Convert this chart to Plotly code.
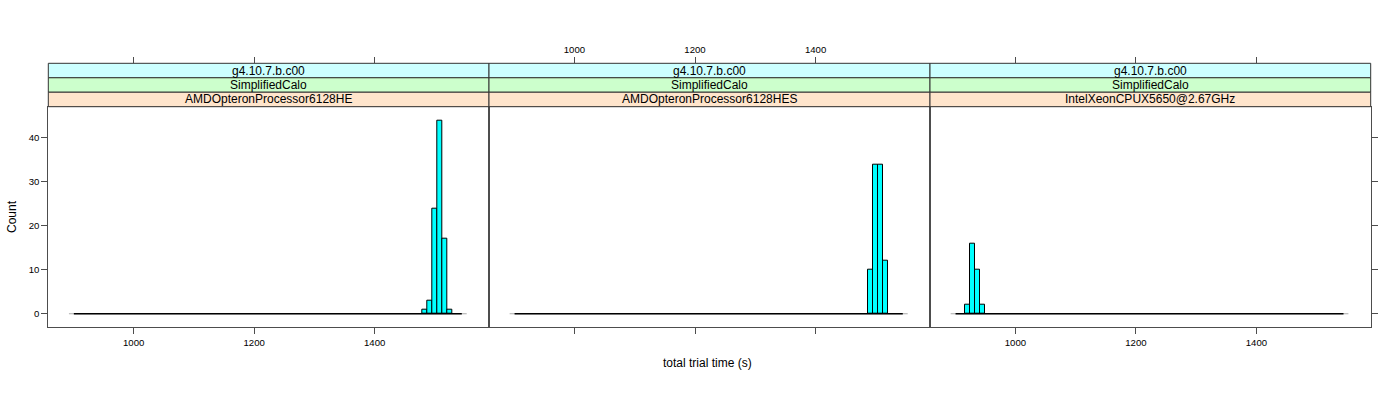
import plotly.graph_objects as go

# ---------------- data ----------------
panel_names = ["AMDOpteronProcessor6128HE", "AMDOpteronProcessor6128HES", "IntelXeonCPUX5650@2.67GHz"]
strip_top = "g4.10.7.b.c00"
strip_mid = "SimplifiedCalo"

bin_width = 8.15
hist_range = [900.7, 1544.55]

p1_bin_left = [1479.35, 1487.5, 1495.65, 1503.8, 1511.95, 1520.1]
p1_counts = [1, 3, 24, 44, 17, 1]
p2_bin_left = [1487.5, 1495.65, 1503.8, 1511.95]
p2_counts = [10, 34, 34, 12]
p3_bin_left = [917.0, 925.15, 933.3, 941.45]
p3_counts = [2, 16, 10, 2]

x_ticks = [1000, 1200, 1400]
y_ticks = [0, 10, 20, 30, 40]
x_title = "total trial time (s)"
y_title = "Count"

# ---------------- layout geometry ----------------
W, H = 1400, 400
xr = [858.3, 1589.7]
yr = [-3.08, 47.08]
px_edges = [48.3, 489.0, 930.0, 1370.7]
plot_top, plot_bot, strip_top_px = 106.7, 327.3, 63.3
ydom = [1 - plot_bot / H, 1 - plot_top / H]
strip_y = [1 - plot_top / H, 1 - strip_top_px / H]

FONT = "Liberation Sans, Arial, Helvetica, sans-serif"
AXCOL = "#4d4d4d"

fig = go.Figure()
panels = [(p1_bin_left, p1_counts), (p2_bin_left, p2_counts), (p3_bin_left, p3_counts)]
for i, (lefts, counts) in enumerate(panels):
    xa = "x" if i == 0 else f"x{i+1}"
    ya = "y" if i == 0 else f"y{i+1}"
    # baseline (zero-count bins)
    fig.add_trace(go.Scatter(x=[hist_range[0] - bin_width, hist_range[1] + bin_width], y=[0, 0],
                             mode="lines", line=dict(color="#aaaaaa", width=1.2),
                             xaxis=xa, yaxis=ya, hoverinfo="skip", showlegend=False))
    fig.add_trace(go.Scatter(x=hist_range, y=[0, 0], mode="lines",
                             line=dict(color="black", width=1.4),
                             xaxis=xa, yaxis=ya, hoverinfo="skip", showlegend=False))
    fig.add_trace(go.Bar(x=[l + bin_width / 2 for l in lefts], y=counts, width=bin_width,
                         marker=dict(color="#00FFFF", line=dict(color="black", width=1)),
                         xaxis=xa, yaxis=ya, showlegend=False))

# invisible traces for top tick axes
for k in range(3):
    fig.add_trace(go.Scatter(x=[xr[0]], y=[0], mode="markers", marker=dict(opacity=0),
                             xaxis=f"x{k+4}", yaxis="y" if k == 0 else f"y{k+1}",
                             hoverinfo="skip", showlegend=False))

common_x = dict(range=xr, showgrid=False, zeroline=False, showline=True, mirror=True,
                linecolor=AXCOL, linewidth=1, ticks="outside", ticklen=6, tickcolor=AXCOL,
                tickvals=x_ticks, tickfont=dict(family=FONT, size=9.6, color="black"))
common_y = dict(range=yr, domain=ydom, showgrid=False, zeroline=False, showline=True, mirror=True,
                linecolor=AXCOL, linewidth=1, tickvals=y_ticks, ticklen=6, tickcolor=AXCOL,
                tickfont=dict(family=FONT, size=9.6, color="black"))

layout = dict(width=W, height=H, margin=dict(l=0, r=0, t=0, b=0),
              paper_bgcolor="white", plot_bgcolor="white", bargap=0,
              font=dict(family=FONT, color="black"))
for i in range(3):
    d = [px_edges[i] / W, px_edges[i + 1] / W]
    xkey = "xaxis" if i == 0 else f"xaxis{i+1}"
    ykey = "yaxis" if i == 0 else f"yaxis{i+1}"
    layout[xkey] = dict(common_x, domain=d, anchor="y" if i == 0 else f"y{i+1}",
                        showticklabels=(i != 1))
    yconf = dict(common_y, anchor="x" if i == 0 else f"x{i+1}")
    if i == 0:
        yconf.update(ticks="outside", showticklabels=True, side="left")
    elif i == 1:
        yconf.update(ticks="", showticklabels=False)
    else:
        yconf.update(ticks="outside", showticklabels=False, side="right")
    layout[ykey] = yconf
    # top tick axes
    layout[f"xaxis{i+4}"] = dict(range=xr, overlaying="x" if i == 0 else f"x{i+1}", side="top",
                                 anchor="free", position=strip_y[1], showgrid=False, zeroline=False,
                                 showline=False, ticks="outside", ticklen=6, tickcolor=AXCOL,
                                 tickvals=x_ticks, showticklabels=(i == 1),
                                 tickfont=dict(family=FONT, size=9.6, color="black"))

shapes = []
annotations = []
strip_cols = ["#CCFFFF", "#CCFFCC", "#FFE5CC"]
sh = (strip_y[1] - strip_y[0]) / 3
for i in range(3):
    x0, x1 = px_edges[i] / W, px_edges[i + 1] / W
    labels = [strip_top, strip_mid, panel_names[i]]
    for j in range(3):
        y1 = strip_y[1] - j * sh
        y0 = y1 - sh
        shapes.append(dict(type="rect", xref="paper", yref="paper", x0=x0, x1=x1, y0=y0, y1=y1,
                           fillcolor=strip_cols[j], line=dict(color="#333333", width=1), layer="above"))
        annotations.append(dict(xref="paper", yref="paper", x=(x0 + x1) / 2, y=(y0 + y1) / 2,
                                text=labels[j], showarrow=False, xanchor="center", yanchor="middle",
                                font=dict(family=FONT, size=12, color="black")))

annotations.append(dict(xref="paper", yref="paper", x=708 / W, y=1 - 362.5 / H, text=x_title,
                        showarrow=False, xanchor="center", yanchor="middle",
                        font=dict(family=FONT, size=12, color="black")))
annotations.append(dict(xref="paper", yref="paper", x=12 / W, y=1 - 217 / H, text=y_title,
                        showarrow=False, xanchor="center", yanchor="middle", textangle=-90,
                        font=dict(family=FONT, size=12, color="black")))
layout["shapes"] = shapes
layout["annotations"] = annotations

fig.update_layout(**layout)
fig.write_html("out.html")
